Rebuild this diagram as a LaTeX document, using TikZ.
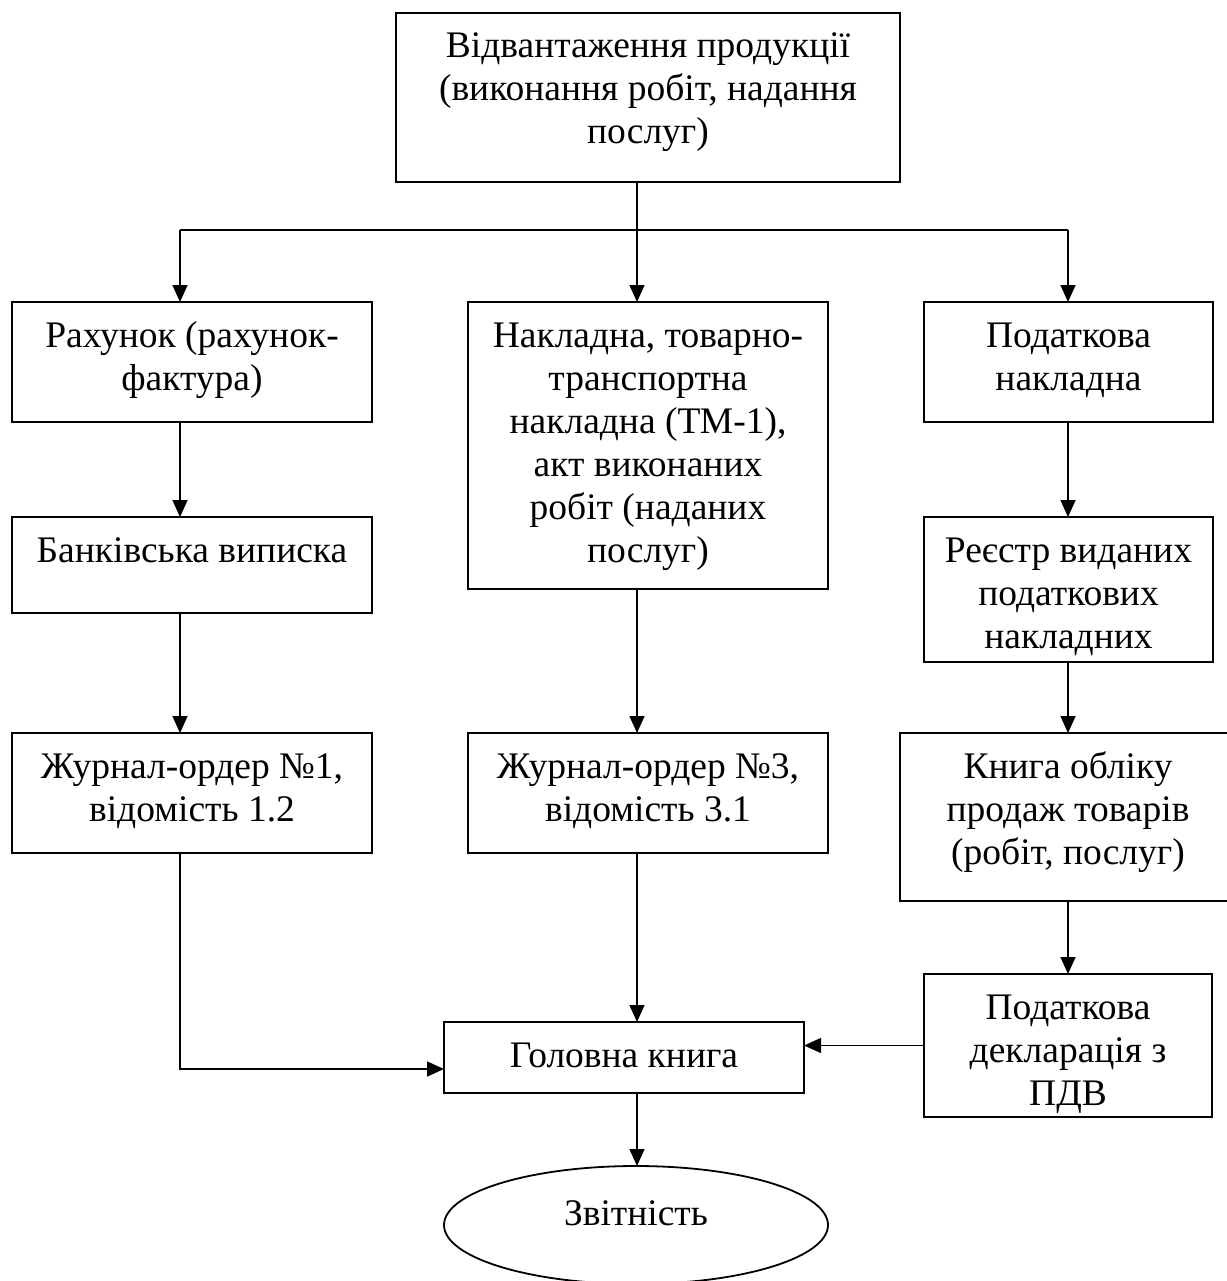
\documentclass[tikz,border=0pt]{standalone}
\usepackage{fontspec}
\setmainfont{Liberation Serif}
\usetikzlibrary{arrows.meta,shapes.geometric,calc}
\newcommand{\btext}[3]{\parbox[t][#2][t]{#1}{\centering\rule{0pt}{45pt}#3}}
\begin{document}
\begin{tikzpicture}[x=1pt,y=-1pt,
  blk/.style={draw, line width=1.8pt, inner sep=0pt, outer sep=0pt, font=\fontsize{37.5pt}{43pt}\selectfont},
  txt/.style={inner sep=0pt, font=\fontsize{37.5pt}{43pt}\selectfont},
  ln/.style={line width=1.6pt},
  arr/.style={line width=1.6pt, -{Triangle[length=17pt,width=15pt]}}]
\useasboundingbox (0,0) rectangle (1226,1281);
\node[blk] (n0) at (648,97.5) {\btext{504pt}{169pt}{Відвантаження продукції\\(виконання робіт, надання\\послуг)}};
\node[blk] (n1) at (192,362) {\btext{360pt}{120pt}{Рахунок (рахунок-\\фактура)}};
\node[blk] (n2) at (648,445.5) {\btext{360pt}{287pt}{Накладна, товарно-\\транспортна\\накладна (ТМ-1),\\акт виконаних\\робіт (наданих\\послуг)}};
\node[blk] (n3) at (1068.5,362) {\btext{289pt}{120pt}{Податкова\\накладна}};
\node[blk] (n4) at (192,565) {\btext{360pt}{96pt}{Банківська виписка}};
\node[blk] (n5) at (1068.5,589.5) {\btext{289pt}{145pt}{Реєстр виданих\\податкових\\накладних}};
\node[blk] (n6) at (192,793) {\btext{360pt}{120pt}{Журнал-ордер №1,\\відомість 1.2}};
\node[blk] (n7) at (648,793) {\btext{360pt}{120pt}{Журнал-ордер №3,\\відомість 3.1}};
\node[blk] (n8) at (1068,817) {\btext{336pt}{168pt}{Книга обліку\\продаж товарів\\(робіт, послуг)}};
\node[blk] (n9) at (1068,1045.5) {\btext{288pt}{143pt}{Податкова\\декларація з\\ПДВ}};
\node[blk] (n10) at (624,1057.5) {\btext{360pt}{71pt}{Головна книга}};
\node[draw, ellipse, line width=1.8pt, inner sep=0pt, outer sep=0pt, minimum width=384pt, minimum height=118pt] (n11) at (636,1225) {};
\node[txt, anchor=base] (t11) at (636,1225) {Звітність};
\coordinate (jc) at (637,230);
\coordinate (jl) at (180,230);
\coordinate (jr) at (1068,230);
\draw[ln] (n0.south -| jc) -- (jc);
\draw[ln] (jl) -- (jr);
\draw[arr] (jl) -- (jl |- n1.north);
\draw[arr] (jc) -- (jc |- n2.north);
\draw[arr] (jr) -- (jr |- n3.north);
\draw[arr] (n1.south -| jl) -- (n4.north -| jl);
\draw[arr] (n4.south -| jl) -- (n6.north -| jl);
\draw[arr] (n6.south -| jl) |- ([yshift=-11.5pt]n10.west);
\draw[arr] (n2.south -| jc) -- (n7.north -| jc);
\draw[arr] (n7.south -| jc) -- (n10.north -| jc);
\draw[arr] (n10.south -| jc) -- (n11.north -| jc);
\draw[arr] (n3.south -| jr) -- (n5.north -| jr);
\draw[arr] (n5.south -| jr) -- (n8.north -| jr);
\draw[arr] (n8.south -| jr) -- (n9.north -| jr);
\draw[arr] (n9.west) -- (n9.west -| n10.east);
\end{tikzpicture}
\end{document}
